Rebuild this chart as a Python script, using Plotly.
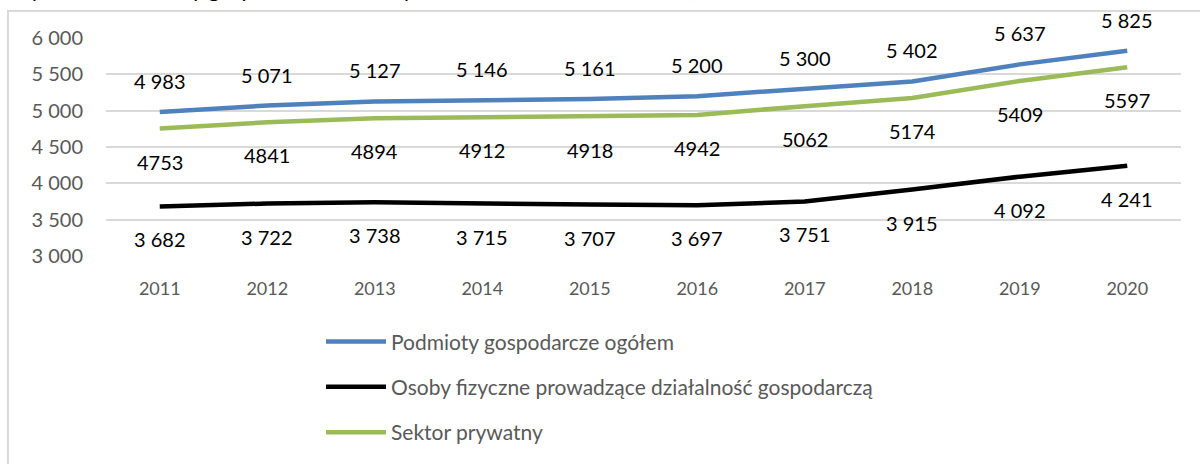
import plotly.graph_objects as go

# Data
years = ["2011", "2012", "2013", "2014", "2015", "2016", "2017", "2018", "2019", "2020"]
podmioty_ogolem = [4983, 5071, 5127, 5146, 5161, 5200, 5300, 5402, 5637, 5825]
osoby_fizyczne = [3682, 3722, 3738, 3715, 3707, 3697, 3751, 3915, 4092, 4241]
sektor_prywatny = [4753, 4841, 4894, 4912, 4918, 4942, 5062, 5174, 5409, 5597]

FONT = "Lato"
TICK_GREY = "#595959"

fig = go.Figure()

series = [
    ("Podmioty gospodarcze ogółem", podmioty_ogolem, "#4F81BD", 31, True),
    ("Osoby fizyczne prowadzące działalność gospodarczą", osoby_fizyczne, "#000000", -33, True),
    ("Sektor prywatny", sektor_prywatny, "#9BBB59", -33, False),
]

annotations = []
for i, (name, vals, color, shift, spaced) in enumerate(series):
    fig.add_trace(go.Scatter(
        x=years, y=vals, name=name, mode="lines",
        line=dict(color=color, width=4.5),
        legendgroup=f"g{i}",
        hoverinfo="x+y+name",
    ))
    # data labels (blue/black use space thousands separator, green none)
    for j, v in enumerate(vals):
        label = f"{v:,}".replace(",", " ") if spaced else str(v)
        annotations.append(dict(
            x=j, y=v, xref="x", yref="y", text=label, showarrow=False,
            yshift=shift, font=dict(family=FONT, size=20, color="#000000"),
        ))

# title, cut off at the top edge of the picture
annotations.append(dict(
    x=-0.093, y=1.157, xref="paper", yref="paper", xanchor="left", yanchor="bottom",
    text="Wykres 3. Podmioty gospodarcze na 10 tys. mieszkańców (2011–2020)",
    showarrow=False, font=dict(family=FONT, size=22, color="#000000"),
))

fig.update_layout(
    width=1200, height=464,
    margin=dict(l=106, r=19, t=38, b=201),
    paper_bgcolor="white", plot_bgcolor="white",
    separators=", ",
    font=dict(family=FONT, color=TICK_GREY),
    showlegend=True,
    legend=dict(
        x=0.200, y=-0.30, xanchor="left", yanchor="top",
        orientation="v", tracegroupgap=15,
        font=dict(family=FONT, size=21, color=TICK_GREY),
        itemwidth=60,
        bgcolor="rgba(0,0,0,0)",
    ),
    annotations=annotations,
    shapes=[
        # outer chart-area border: only the left and top edges are in the picture
        dict(type="path", xref="paper", yref="paper",
             path="M -0.0912,-1.2 L -0.0912,1.1244 L 1.3,1.1244",
             line=dict(color="#d9d9d9", width=2), layer="below"),
    ],
)

fig.update_xaxes(
    type="category", range=[-0.5, 9.5],
    showgrid=False, showline=False, zeroline=False, ticks="",
    tickfont=dict(family=FONT, size=18, color=TICK_GREY),
    ticklabelstandoff=20,
)
fig.update_yaxes(
    range=[3000, 6000], dtick=500, tickformat=",d",
    showgrid=True, gridcolor="#d9d9d9", gridwidth=1.5,
    zeroline=False, showline=False, ticks="",
    tickfont=dict(family=FONT, size=20, color=TICK_GREY),
    ticklabelstandoff=22,
)

fig.write_html("out.html", config={"displayModeBar": False},
               post_script="document.body.style.margin='0';")
